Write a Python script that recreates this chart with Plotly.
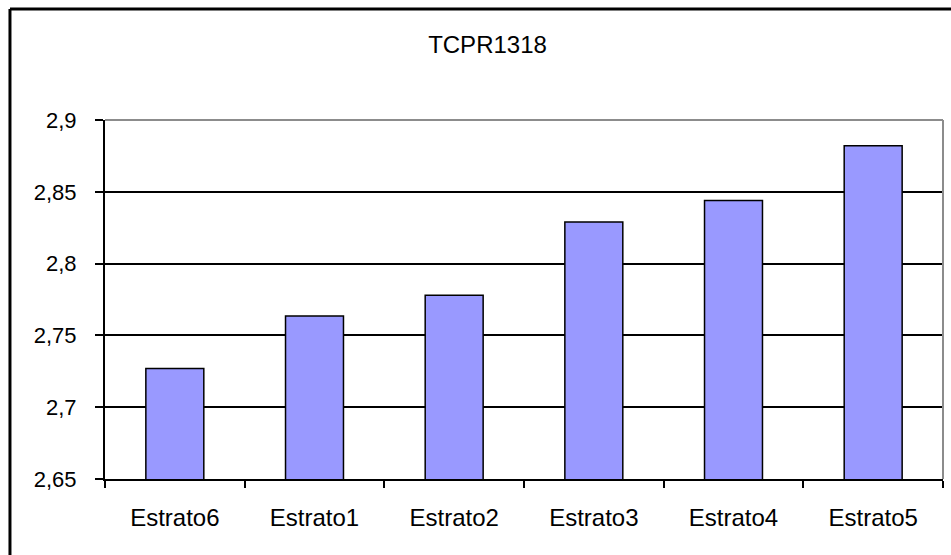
import plotly.graph_objects as go

# Data
categories = ["Estrato6", "Estrato1", "Estrato2", "Estrato3", "Estrato4", "Estrato5"]
values = [2.727, 2.7635, 2.778, 2.829, 2.844, 2.882]
chart_title = "TCPR1318"

font_family = "Arial, Liberation Sans, sans-serif"

fig = go.Figure()
fig.add_trace(go.Bar(
    x=categories,
    y=values,
    marker=dict(color="#9999FF", line=dict(color="black", width=1.5)),
))

# plot area border (top and right are grey in the original)
fig.add_shape(type="line", xref="paper", yref="paper", x0=0, x1=1, y0=1, y1=1,
              line=dict(color="#8c8c8c", width=2), layer="above")
fig.add_shape(type="line", xref="paper", yref="paper", x0=1, x1=1, y0=0, y1=1,
              line=dict(color="#8c8c8c", width=2), layer="above")
# chart area border, cut off by the image on the right and bottom
fig.add_shape(type="line", xref="paper", yref="paper", x0=-0.1134, x1=1.05, y0=1.3095, y1=1.3095,
              line=dict(color="black", width=3), layer="above")
fig.add_shape(type="line", xref="paper", yref="paper", x0=-0.1134, x1=-0.1134, y0=-0.3, y1=1.3095,
              line=dict(color="black", width=3), layer="above")

fig.update_layout(
    width=951, height=555,
    margin=dict(l=105, r=8, t=120, b=76),
    paper_bgcolor="white", plot_bgcolor="white",
    separators=", ",
    showlegend=False,
    bargap=0.585,
    font=dict(family=font_family, size=24, color="black"),
    title=dict(text=chart_title, x=487.5 / 951, xref="container", xanchor="center",
               y=1 - 45 / 555, yref="container", yanchor="middle",
               font=dict(size=24, color="black")),
)
fig.update_xaxes(
    showgrid=False, showline=True, linecolor="black", linewidth=2,
    ticks="outside", tickson="boundaries", ticklen=7, tickwidth=2, tickcolor="black",
    ticklabelstandoff=16, tickfont=dict(size=24),
)
fig.update_yaxes(
    range=[2.65, 2.9], dtick=0.05, tick0=2.65,
    showgrid=True, gridcolor="black", gridwidth=2,
    showline=True, linecolor="black", linewidth=2,
    ticks="outside", ticklen=8, tickwidth=2, tickcolor="black",
    ticklabelstandoff=14, zeroline=False, tickfont=dict(size=22),
)

# drop the default page margin so the figure sits at the window's top-left corner
fig.write_html("out.html", config={"displayModeBar": False},
               post_script="document.body.style.margin = '0';")
